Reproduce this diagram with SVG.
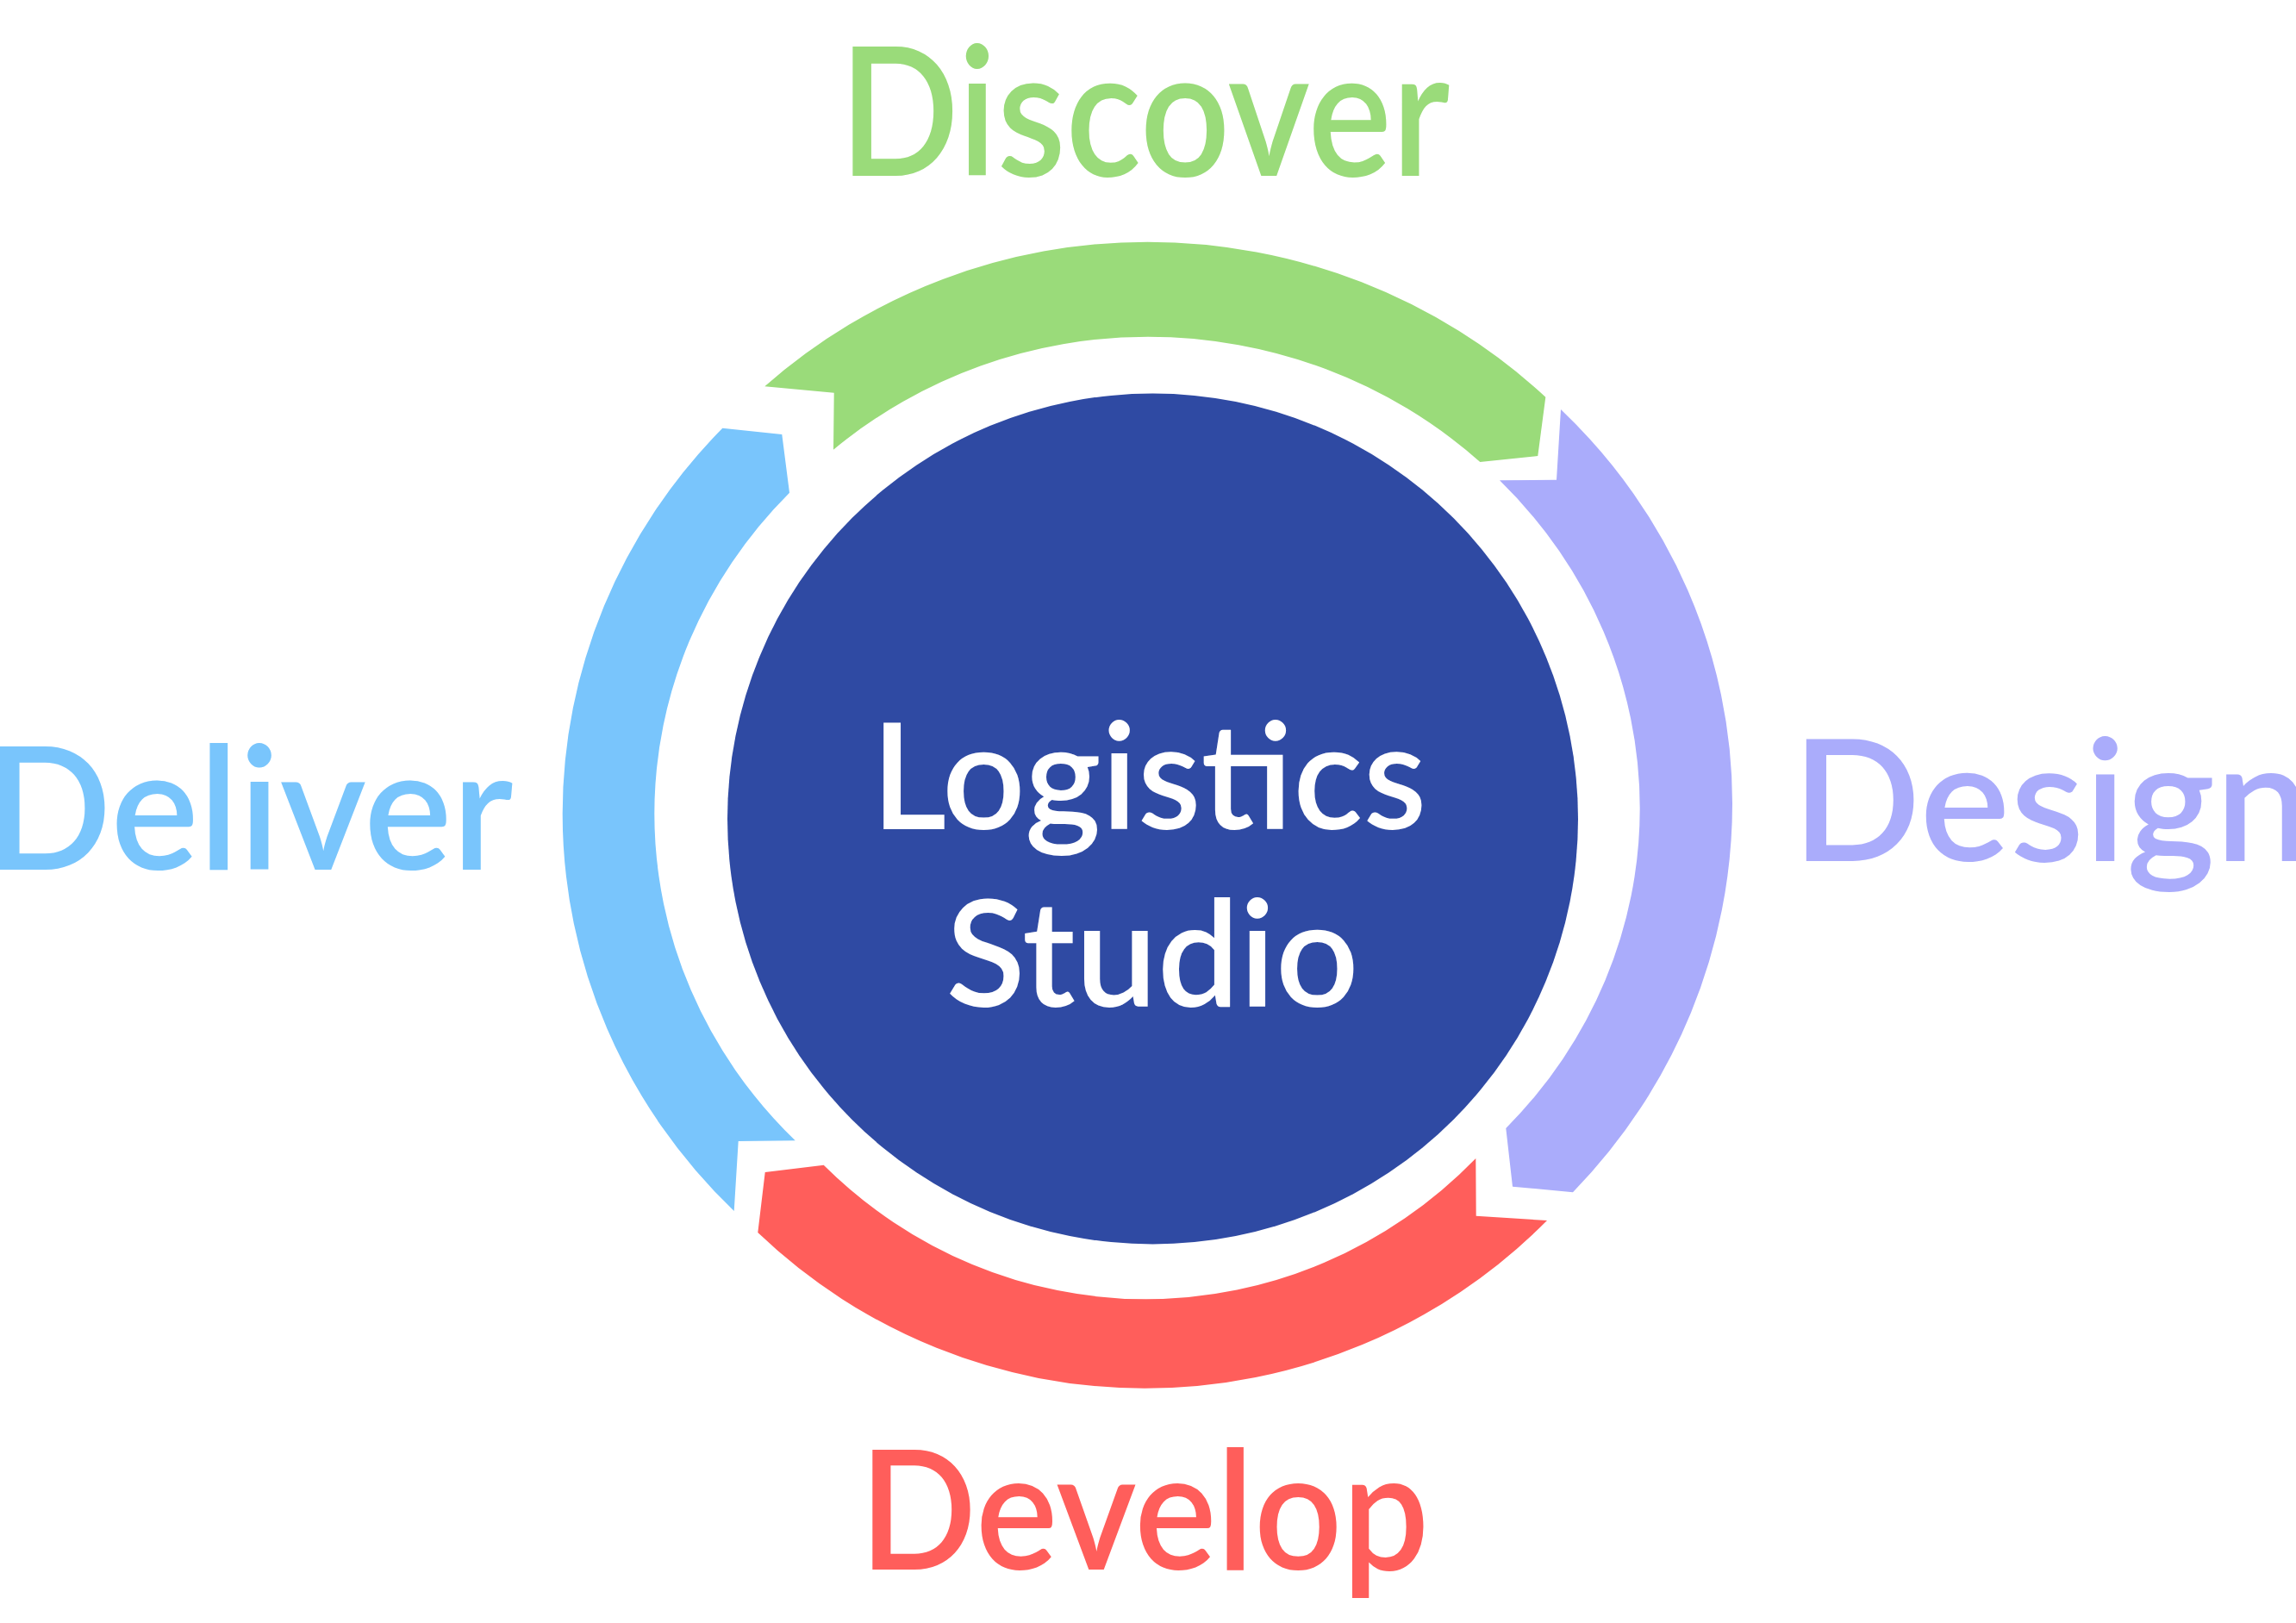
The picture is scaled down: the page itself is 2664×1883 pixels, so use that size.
<svg xmlns="http://www.w3.org/2000/svg" width="2664" height="1883" viewBox="0 0 2664 1883">
  <style>
    .lbl { font-family: Lato, "Open Sans", "Liberation Sans", sans-serif; font-weight: 600; }
    .center-text { fill: #FFFFFF; font-size: 172px; text-anchor: middle; }
    .green { fill: #9ADB7A; }
    .purple { fill: #AAACFB; }
    .red { fill: #FF5E5B; }
    .blue { fill: #79C5FC; }
  </style>
  <rect width="2664" height="1883" fill="#FFFFFF"/>
  <g id="connectors">
    <path id="arrow-discover-design" class="green" d="M 887.3 448.3 A 669.3 665 0 0 1 1331.5 280.7 A 675 665 0 0 1 1793.3 460.7 L 1784.3 529 L 1717.3 536 A 572.6 558.3 0 0 0 1332 390.7 A 567.1 558.3 0 0 0 967 521.7 L 967.7 455.7 Z"/>
    <path id="arrow-design-develop" class="purple" d="M 1811 475 A 678.7 646 0 0 1 2010 932 A 678.7 657.7 0 0 1 1825 1383.3 L 1755 1376.7 L 1747.3 1309 A 571.7 541.3 0 0 0 1902.7 938 A 571.7 544.9 0 0 0 1740 557.3 L 1806 556.7 Z"/>
    <path id="arrow-develop-deliver" class="red" d="M 1795 1416 A 660.5 665 0 0 1 1328 1610.7 A 654.8 665 0 0 1 879.3 1430 L 887.7 1360 L 955.7 1351.7 A 539.8 558.3 0 0 0 1329.6 1507.3 A 541.5 558.3 0 0 0 1712.3 1344 L 1712.7 1410.7 Z"/>
    <path id="arrow-deliver-discover" class="blue" d="M 851.7 1405 A 678.7 651.7 0 0 1 652.7 944 A 678.7 650.9 0 0 1 838.3 496.7 L 907.3 504 L 916 571.7 A 571.7 541.3 0 0 0 759.3 944 A 571.7 541.9 0 0 0 922.7 1323.3 L 856.7 1324 Z"/>
  </g>
  <g id="node-center">
    <circle cx="1337.5" cy="950" r="493.5" fill="#2F4AA3"/>
    <g transform="translate(1337,0) scale(0.984,1)">
      <text class="lbl center-text" x="-4" y="962">Logistics</text>
      <text class="lbl center-text" x="0" y="1168">Studio</text>
    </g>
  </g>
  <g id="node-discover">
    <text class="lbl green" transform="translate(1328,204) scale(0.876,1)" x="0" y="0" font-size="209" text-anchor="middle">Discover</text>
  </g>
  <g id="node-design">
    <text class="lbl purple" x="2079" y="999" font-size="197">Design</text>
  </g>
  <g id="node-develop">
    <text class="lbl red" transform="translate(1327.7,1821) scale(0.934,1)" x="0" y="0" font-size="192" text-anchor="middle">Develop</text>
  </g>
  <g id="node-deliver">
    <text class="lbl blue" transform="scale(0.966,1)" x="-17" y="1009" font-size="199">Deliver</text>
  </g>
</svg>
